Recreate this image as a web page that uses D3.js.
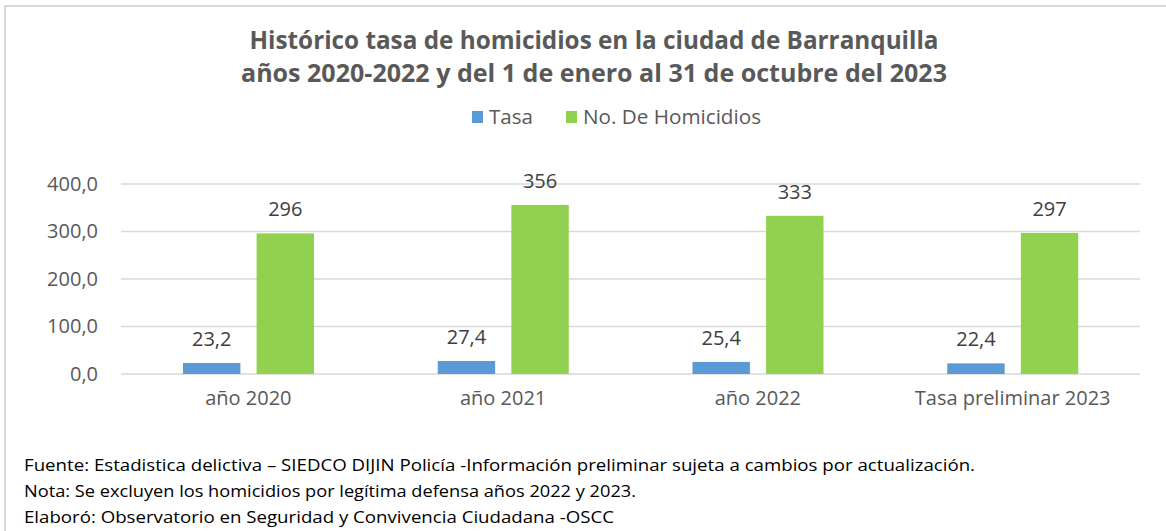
<!DOCTYPE html>
<html>
<head>
<meta charset="utf-8">
<script src="https://cdn.jsdelivr.net/npm/d3@7"></script>
<style>
  body { margin: 0; background: #fff; }
  svg { display: block; }
</style>
</head>
<body>
<svg id="chart" width="1166" height="531"></svg>
<script>
// data
var categories = ["año 2020", "año 2021", "año 2022", "Tasa preliminar 2023"];
var series = ["Tasa", "No. De Homicidios"];
var tasa = [23.2, 27.4, 25.4, 22.4];
var homicidios = [296, 356, 333, 297];
var yTicks = [0, 100, 200, 300, 400];
var colours = ["#5b9bd5", "#92d050"];
var notes = [
  "Fuente: Estadistica delictiva – SIEDCO DIJIN Policía -Información preliminar sujeta a cambios por actualización.",
  "Nota: Se excluyen los homicidios por legítima defensa años 2022 y 2023.",
  "Elaboró: Observatorio en Seguridad y Convivencia Ciudadana -OSCC"
];

var svg = d3.select("#chart");
var font = "'Open Sans', sans-serif";

// outer frame
svg.append("rect")
  .attr("x", 5).attr("y", 6)
  .attr("width", 1200).attr("height", 600)
  .attr("fill", "none")
  .attr("stroke", "#d9d9d9")
  .attr("stroke-width", 2);

var plotLeft = 121, plotRight = 1140, plotTop = 184, plotBottom = 374;

var x0 = d3.scaleBand().domain(categories).range([plotLeft, plotRight]);
var x1 = d3.scaleBand().domain(series).range([62, 255 - 62]).paddingInner(0.22);
var y = d3.scaleLinear().domain([0, 400]).range([plotBottom, plotTop]);

// gridlines
svg.append("g").selectAll("line")
  .data(yTicks)
  .enter().append("line")
  .attr("x1", plotLeft).attr("x2", plotRight)
  .attr("y1", function(d) { return y(d); })
  .attr("y2", function(d) { return y(d); })
  .attr("stroke", "#d9d9d9")
  .attr("stroke-width", 1.5);

// y axis
var yAxis = svg.append("g")
  .attr("transform", "translate(" + plotLeft + ",0)")
  .call(d3.axisLeft(y).tickValues(yTicks).tickSize(0).tickPadding(23)
    .tickFormat(function(d) { return d3.format(".1f")(d).replace(".", ","); }));
yAxis.select(".domain").remove();
yAxis.selectAll("text")
  .style("font-family", font).style("font-size", "20px").attr("fill", "#595959");

// x axis
var xAxis = svg.append("g")
  .attr("transform", "translate(0," + plotBottom + ")")
  .call(d3.axisBottom(x0).tickSize(0).tickPadding(17));
xAxis.select(".domain").remove();
xAxis.selectAll("text")
  .style("font-family", font).style("font-size", "20px").attr("fill", "#595959");

// bars
var rows = categories.map(function(c, i) { return { cat: c, vals: [tasa[i], homicidios[i]] }; });
var groups = svg.selectAll(".grp")
  .data(rows)
  .enter().append("g")
  .attr("class", "grp")
  .attr("transform", function(d) { return "translate(" + x0(d.cat) + ",0)"; });

groups.selectAll("rect")
  .data(function(d) { return d.vals.map(function(v, j) { return { s: series[j], v: v, j: j }; }); })
  .enter().append("rect")
  .attr("x", function(d) { return x1(d.s); })
  .attr("width", x1.bandwidth())
  .attr("y", function(d) { return y(d.v); })
  .attr("height", function(d) { return plotBottom - y(d.v); })
  .attr("fill", function(d) { return colours[d.j]; });

groups.selectAll("text.lbl")
  .data(function(d) { return d.vals.map(function(v, j) { return { s: series[j], v: v, j: j }; }); })
  .enter().append("text")
  .attr("class", "lbl")
  .attr("x", function(d) { return x1(d.s) + x1.bandwidth() / 2; })
  .attr("y", function(d) { return y(d.v) - 17; })
  .attr("text-anchor", "middle")
  .style("font-family", font).style("font-size", "20px")
  .attr("fill", "#404040")
  .text(function(d) { return d.j === 0 ? d3.format(".1f")(d.v).replace(".", ",") : d.v; });

// title
var titleLines = [
  { t: "Histórico tasa de homicidios en la ciudad de Barranquilla", y: 49, w: 689 },
  { t: "años 2020-2022 y del 1 de enero al 31 de octubre del 2023", y: 82, w: 706 }
];
svg.selectAll("text.title")
  .data(titleLines)
  .enter().append("text")
  .attr("class", "title")
  .attr("x", 594).attr("y", function(d) { return d.y; })
  .attr("text-anchor", "middle")
  .attr("textLength", function(d) { return d.w; })
  .attr("lengthAdjust", "spacingAndGlyphs")
  .style("font-family", font).style("font-size", "25px").style("font-weight", "bold")
  .attr("fill", "#595959")
  .text(function(d) { return d.t; });

// legend
var legendItems = [
  { s: series[0], sx: 472, tx: 489, w: 44 },
  { s: series[1], sx: 566, tx: 583, w: 178 }
];
var lg = svg.append("g");
lg.selectAll("rect")
  .data(legendItems)
  .enter().append("rect")
  .attr("x", function(d) { return d.sx; }).attr("y", 111)
  .attr("width", 11).attr("height", 12)
  .attr("fill", function(d, i) { return colours[i]; });
lg.selectAll("text")
  .data(legendItems)
  .enter().append("text")
  .attr("x", function(d) { return d.tx; }).attr("y", 124)
  .attr("textLength", function(d) { return d.w; })
  .attr("lengthAdjust", "spacingAndGlyphs")
  .style("font-family", font).style("font-size", "20px")
  .attr("fill", "#595959")
  .text(function(d) { return d.s; });

// footnotes
var noteW = [951, 612, 590];
svg.selectAll("text.note")
  .data(notes)
  .enter().append("text")
  .attr("class", "note")
  .attr("x", 24)
  .attr("y", function(d, i) { return 471 + i * 26; })
  .attr("textLength", function(d, i) { return noteW[i]; })
  .attr("lengthAdjust", "spacingAndGlyphs")
  .style("font-family", font).style("font-size", "17px")
  .attr("fill", "#000")
  .text(function(d) { return d; });
</script>
</body>
</html>
